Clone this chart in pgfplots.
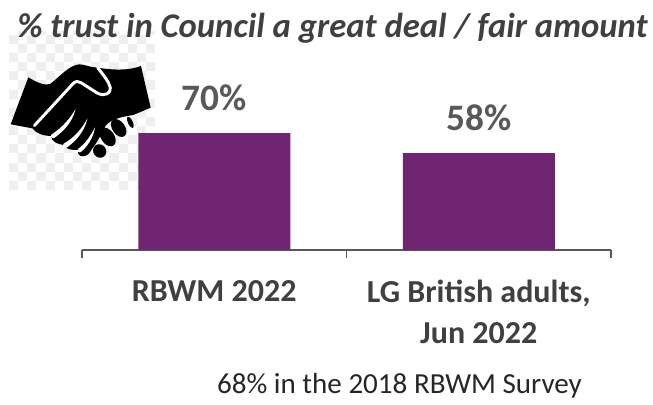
\documentclass[border=0pt]{standalone}
\usepackage{pgfplots}
\pgfplotsset{compat=1.18}
\usepackage{fontspec}
\setmainfont{Carlito}
\definecolor{barpurple}{HTML}{702573}
\definecolor{axisgrey}{HTML}{595959}
\definecolor{textgrey}{HTML}{404040}
\definecolor{tilegrey}{HTML}{EFEFEF}
\begin{document}
\begin{tikzpicture}[x=0.75pt,y=0.75pt]
\path[use as bounding box] (0,0) rectangle (653,404);

% checker background of the pasted icon
\begin{scope}
\clip (9,214) rectangle (155,372);
\foreach \i in {0,...,16}{
  \foreach \j in {0,...,17}{
    \pgfmathparse{int(mod(\i+\j,2))}
    \ifnum\pgfmathresult=0
      \fill[tilegrey] (9+\i*9.13,214+\j*9.13) rectangle ++(9.13,9.13);
    \fi
  }
}
\end{scope}

% handshake icon, traced at 3x
\begin{scope}[x=0.25pt,y=-0.25pt,shift={(15,-1107)}]
\fill[black] (17,268) -- (70,127) .. controls (100,145) and (120,152) .. (135,147)
  .. controls (165,125) and (190,92) .. (222,88) .. controls (240,88) and (255,97) .. (270,97)
  .. controls (320,105) and (370,108) .. (408,93) -- (437,218) -- (385,240)
  .. controls (355,245) and (320,250) .. (302,272) .. controls (290,295) and (275,325) .. (262,340)
  .. controls (255,352) and (250,362) .. (235,364) .. controls (222,364) and (216,355) .. (220,345)
  .. controls (205,345) and (182,345) .. (176,330) .. controls (160,328) and (138,320) .. (138,303)
  .. controls (120,303) and (95,298) .. (82,280) -- cycle;
\draw[white,line width=2.2pt,line cap=round,line join=round] (88,272) -- (205,145)
  .. controls (212,138) and (220,138) .. (228,143) -- (278,175)
  .. controls (300,185) and (318,175) .. (316,158) .. controls (312,140) and (295,120) .. (278,98);
\fill[white] (136,306) -- (140,298) .. controls (172,278) and (195,250) .. (212,222) .. controls (202,262) and (175,290) .. (146,310) -- cycle;
\fill[white] (172,334) -- (176,326) .. controls (208,308) and (232,280) .. (247,250) .. controls (240,288) and (212,320) .. (182,340) -- cycle;
\fill[white] (216,350) -- (220,341) .. controls (240,328) and (258,300) .. (270,277) .. controls (266,308) and (245,338) .. (226,352) -- cycle;
\fill[black,rotate around={-50:(284,348)}] (284,348) ellipse (21 and 19);
\fill[black,rotate around={-55:(308,306)}] (308,306) ellipse (31 and 20);
\fill[black,rotate around={-55:(341,279)}] (341,279) ellipse (30 and 19);
\fill[black,rotate around={-65:(376,262)}] (376,262) ellipse (19 and 7);
\end{scope}

\begin{axis}[
  at={(82*0.75pt,154*0.75pt)},
  anchor=south west,
  scale only axis,
  width=529*0.75pt,
  height=117*0.75pt,
  xmin=-0.5, xmax=1.5,
  ymin=0, ymax=70,
  axis x line=bottom,
  axis y line=none,
  x axis line style={-,draw=axisgrey,line width=1.1pt},
  xtick={-0.5,0.5,1.5},
  xticklabels={},
  tick align=outside,
  major tick length=6pt,
  x tick style={draw=axisgrey,line width=0.9pt},
  extra x ticks={0,1},
  extra x tick labels={RBWM 2022,{LG British adults,\\Jun 2022}},
  extra x tick style={major tick length=0pt,
    xticklabel style={anchor=north,align=center,yshift=-19pt}},
  ticklabel style={font=\fontsize{24}{31}\selectfont\bfseries,text=textgrey},
  /pgf/number format/assume math mode=true,
  clip=false,
]
\addplot[ybar,bar width=152*0.75pt,fill=barpurple,draw=none,
  nodes near coords={\pgfmathprintnumber{\pgfplotspointmeta}\%},
  every node near coord/.append style={font=\fontsize{28}{30}\selectfont\bfseries,text=axisgrey,yshift=13pt}]
  coordinates {(0,70) (1,58)};
\end{axis}

\node[font=\fontsize{26}{32}\selectfont\bfseries\itshape,text=textgrey] at (332.5,376) {\% trust in Council a great deal / fair amount};
\node[font=\fontsize{21.8}{28}\selectfont,text=black!85] at (399.5,18) {68\% in the 2018 RBWM Survey};
\end{tikzpicture}
\end{document}
